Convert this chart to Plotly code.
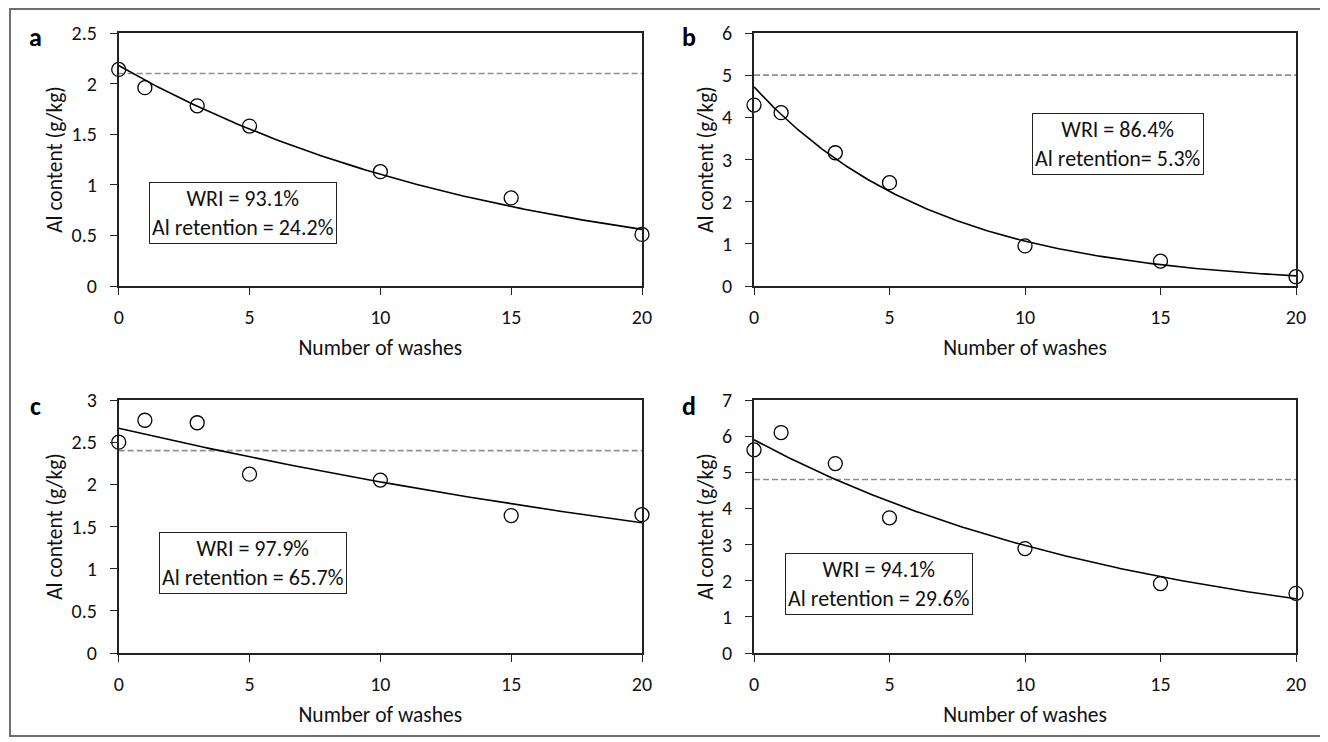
import numpy as np
import plotly.graph_objects as go

# ---------------- data ----------------
washes = [0, 1, 3, 5, 10, 15, 20]
al_a = [2.14, 1.96, 1.78, 1.58, 1.13, 0.87, 0.51]
al_b = [4.29, 4.11, 3.16, 2.45, 0.95, 0.59, 0.22]
al_c = [2.50, 2.76, 2.73, 2.12, 2.05, 1.63, 1.64]
al_d = [5.62, 6.10, 5.24, 3.74, 2.89, 1.92, 1.65]
thresholds = [2.10, 5.00, 2.40, 4.80]
panel_labels = ["a", "b", "c", "d"]
wri_texts = ["WRI = 93.1%", "WRI = 86.4%", "WRI = 97.9%", "WRI = 94.1%"]
ret_texts = ["Al retention = 24.2%", "Al retention= 5.3%",
             "Al retention = 65.7%", "Al retention = 29.6%"]
y_max = [2.5, 6, 3, 7]
y_dtick = [0.5, 1, 0.5, 1]
x_title = "Number of washes"
y_title = "Al content (g/kg)"

series = [al_a, al_b, al_c, al_d]

# ---------------- layout geometry (page pixels) ----------------
OFF = 8                      # default page body margin
W, H = 1328 - OFF, 742 - OFF
FONT = "Carlito, Lato, sans-serif"
FS_TICK = 20
FS_TITLE = 21.5
FS_BOX = 22


def fx(px):
    return (px - OFF) / W


def fy(py):
    return 1 - (py - OFF) / H


px_x = [(118.7, 642.0), (754.0, 1296.0), (118.7, 642.0), (754.0, 1296.0)]
px_y = [(33.0, 286.0), (33.0, 286.0), (400.0, 653.0), (400.0, 653.0)]
label_pos = [(35, 37), (689, 37), (35, 406), (689, 406)]
# box centres as fractions of each plot area
boxes = [(0.2366, 0.2885), (0.6716, 0.5632), (0.2557, 0.3538), (0.2306, 0.2747)]

fig = go.Figure()
layout = dict(
    width=W, height=H,
    margin=dict(l=0, r=0, t=0, b=0),
    paper_bgcolor="white", plot_bgcolor="white",
    showlegend=False,
    font=dict(family=FONT, size=FS_TICK, color="#111"),
)

xs = np.linspace(0, 20, 201)
annotations = []
for i in range(4):
    sfx = "" if i == 0 else str(i + 1)
    xa, ya = "x" + sfx, "y" + sfx
    y = series[i]
    # exponential trendline fitted from the data (least squares on log values)
    k, lnA = np.polyfit(washes, np.log(y), 1)
    yfit = np.exp(lnA) * np.exp(k * xs)

    fig.add_trace(go.Scatter(x=[washes[0], washes[-1]], y=[thresholds[i]] * 2,
                             mode="lines", xaxis=xa, yaxis=ya,
                             line=dict(color="#8f8f8f", width=1.6, dash="6px,3px")))
    fig.add_trace(go.Scatter(x=xs, y=yfit, mode="lines", xaxis=xa, yaxis=ya,
                             line=dict(color="black", width=1.6)))
    fig.add_trace(go.Scatter(x=washes, y=y, mode="markers", xaxis=xa, yaxis=ya,
                             cliponaxis=False,
                             marker=dict(symbol="circle-open", size=14,
                                         color="black", line=dict(width=1.3))))

    x0, x1 = px_x[i]
    y0, y1 = px_y[i]
    common = dict(showgrid=False, zeroline=False, showline=True, mirror=True,
                  linecolor="#222", linewidth=1.5, ticks="outside", ticklen=7,
                  tickwidth=1.3, tickcolor="#222",
                  tickfont=dict(family=FONT, size=FS_TICK, color="#111"),
                  automargin=False)
    layout["xaxis" + sfx] = dict(common, domain=[fx(x0), fx(x1)], range=[0, 20],
                                 dtick=5, tick0=0, anchor=ya,
                                 ticklabelstandoff=5,
                                 title=dict(text=x_title, standoff=12,
                                            font=dict(family=FONT, size=FS_TITLE, color="#111")))
    layout["yaxis" + sfx] = dict(common, domain=[fy(y1), fy(y0)],
                                 range=[0, y_max[i]], dtick=y_dtick[i], tick0=0,
                                 anchor=xa, ticklabelstandoff=9,
                                 title=dict(text=y_title, standoff=3,
                                            font=dict(family=FONT, size=FS_TITLE, color="#111")))

    lx, ly = label_pos[i]
    annotations.append(dict(text="<b>%s</b>" % panel_labels[i], xref="paper", yref="paper",
                            x=fx(lx), y=fy(ly), xanchor="center", yanchor="middle",
                            showarrow=False, font=dict(family=FONT, size=26, color="black")))
    bx, by = boxes[i]
    annotations.append(dict(text=wri_texts[i] + "<br>" + ret_texts[i],
                            xref=xa + " domain", yref=ya + " domain",
                            x=bx, y=by, xanchor="center", yanchor="middle",
                            showarrow=False, align="center", borderpad=2,
                            bordercolor="#222", borderwidth=1, bgcolor="white",
                            font=dict(family=FONT, size=FS_BOX, color="#111")))

layout["annotations"] = annotations
layout["shapes"] = [dict(type="rect", xref="paper", yref="paper",
                         x0=fx(10), x1=fx(1323), y0=fy(736), y1=fy(9),
                         line=dict(color="#6e6e6e", width=2), fillcolor="rgba(0,0,0,0)")]
fig.update_layout(**layout)
fig.write_html("out.html")
